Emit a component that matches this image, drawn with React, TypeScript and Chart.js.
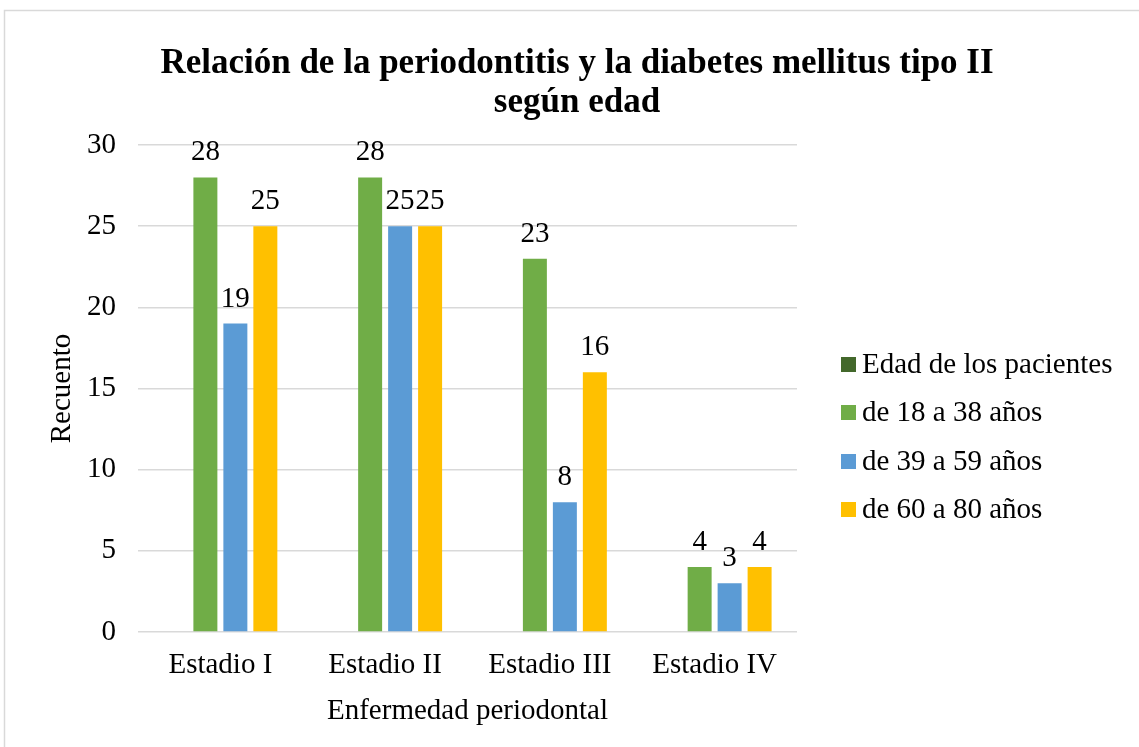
import React, { useEffect, useRef } from "react";
import { Chart, registerables } from "chart.js";

Chart.register(...registerables);

const categories = ["Estadio I", "Estadio II", "Estadio III", "Estadio IV"];
const seriesNames = ["Edad de los pacientes", "de 18 a 38 años", "de 39 a 59 años", "de 60 a 80 años"];
const edadPacientes: (number | null)[] = [null, null, null, null];
const de18a38 = [28, 28, 23, 4];
const de39a59 = [19, 25, 8, 3];
const de60a80 = [25, 25, 16, 4];
const colors = ["#43682b", "#70ad47", "#5b9bd5", "#ffc000"];
const titleLines = ["Relación de la periodontitis y la diabetes mellitus tipo II", "según edad"];
const yTitle = "Recuento";
const xTitle = "Enfermedad periodontal";

const FONT = '"Liberation Serif", "Times New Roman", serif';
const FS = 29;

export default function App() {
  const ref = useRef<HTMLCanvasElement>(null);
  useEffect(() => {
    document.body.style.margin = "0";
    const canvas = ref.current!;
    const extras = {
      id: "extras",
      beforeDraw(chart: any) {
        const ctx = chart.ctx;
        ctx.save();
        ctx.fillStyle = "#ffffff";
        ctx.fillRect(0, 0, chart.width, chart.height);
        ctx.strokeStyle = "#d9d9d9";
        ctx.lineWidth = 1.5;
        ctx.strokeRect(4.5, 10.5, chart.width + 10, chart.height + 10);
        ctx.restore();
      },
      afterDraw(chart: any) {
        const ctx = chart.ctx;
        ctx.save();
        // title
        ctx.fillStyle = "#000";
        ctx.font = `bold 35px ${FONT}`;
        ctx.textAlign = "center";
        ctx.textBaseline = "alphabetic";
        ctx.fillText(titleLines[0], 577, 73);
        ctx.fillText(titleLines[1], 577, 112);
        // data labels
        ctx.font = `${FS}px ${FONT}`;
        chart.data.datasets.forEach((ds: any, di: number) => {
          const meta = chart.getDatasetMeta(di);
          meta.data.forEach((bar: any, i: number) => {
            const v = ds.data[i];
            if (v === null || v === undefined) return;
            ctx.fillText(String(v), bar.x, bar.y - 17);
          });
        });
        // legend
        ctx.textAlign = "left";
        ctx.textBaseline = "middle";
        const rows = [364, 412, 461, 509];
        seriesNames.forEach((name, i) => {
          ctx.fillStyle = colors[i];
          ctx.fillRect(841, rows[i] - 7, 15, 15);
          ctx.fillStyle = "#000";
          ctx.fillText(name, 862, rows[i] + 1);
        });
        ctx.restore();
      },
    };
    const font = { family: FONT, size: FS, lineHeight: 1.2 };
    const chart = new Chart(canvas, {
      type: "bar",
      data: {
        labels: categories,
        datasets: [
          { label: seriesNames[0], data: edadPacientes, backgroundColor: colors[0] },
          { label: seriesNames[1], data: de18a38, backgroundColor: colors[1] },
          { label: seriesNames[2], data: de39a59, backgroundColor: colors[2] },
          { label: seriesNames[3], data: de60a80, backgroundColor: colors[3] },
        ],
      },
      options: {
        responsive: false,
        animation: false,
        datasets: { bar: { barPercentage: 0.8, categoryPercentage: 0.728 } },
        layout: { padding: { left: 40, top: 145, right: 342, bottom: 10 } },
        plugins: { legend: { display: false }, title: { display: false }, tooltip: { enabled: false } },
        scales: {
          x: {
            grid: { display: false, drawTicks: false },
            border: { display: false },
            ticks: { color: "#000", padding: 15.6, font },
            title: { display: true, text: xTitle, color: "#000", padding: { top: 0, bottom: 8.6 }, font },
            afterFit: (s: any) => { s.height = 105; },
          },
          y: {
            min: 0,
            max: 30,
            ticks: { stepSize: 5, color: "#000", padding: 22, font },
            grid: { color: "#d9d9d9", lineWidth: 1.5, drawTicks: false },
            border: { display: false },
            title: { display: true, text: yTitle, color: "#000", padding: { top: 4.6, bottom: 0 }, font },
            afterFit: (s: any) => { s.width = 98; },
          },
        },
      },
      plugins: [extras],
    } as any);
    return () => chart.destroy();
  }, []);
  return <canvas ref={ref} width={1139} height={747} style={{ display: "block" }} />;
}
